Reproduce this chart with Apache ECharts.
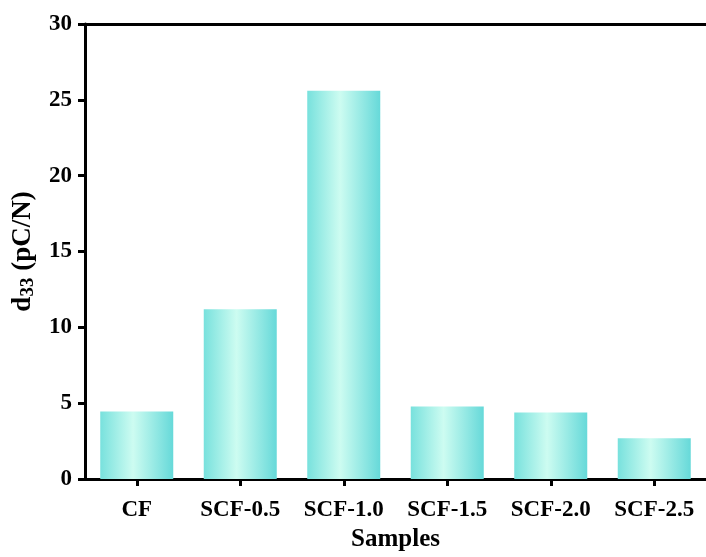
<!DOCTYPE html>
<html>
<head>
<meta charset="utf-8">
<script src="https://cdn.jsdelivr.net/npm/echarts@6/dist/echarts.min.js"></script>
<style>
html,body{margin:0;padding:0;background:#fff;}
#chart{width:706px;height:557px;}
</style>
</head>
<body>
<div id="chart"></div>
<script>
var categories = ['CF', 'SCF-0.5', 'SCF-1.0', 'SCF-1.5', 'SCF-2.0', 'SCF-2.5'];
var d33Values = [4.45, 11.2, 25.6, 4.78, 4.38, 2.68];
var yTicks = [0, 5, 10, 15, 20, 25, 30];

var font = '"Liberation Serif", "Times New Roman", serif';
var chart = echarts.init(document.getElementById('chart'));
var barColor = new echarts.graphic.LinearGradient(0, 0, 1, 0, [
  {offset: 0, color: '#78e1dd'},
  {offset: 0.45, color: '#cdfcf1'},
  {offset: 1, color: '#66d9d9'}
]);
chart.setOption({
  animation: false,
  backgroundColor: '#fff',
  grid: {left: 85, right: -4, top: 24, bottom: 77, containLabel: false},
  xAxis: [{
    type: 'category',
    data: categories,
    position: 'bottom',
    name: 'Samples',
    nameLocation: 'middle',
    nameGap: 48,
    nameTextStyle: {fontFamily: font, fontWeight: 'bold', fontSize: 25, color: '#000'},
    axisLine: {lineStyle: {color: '#000', width: 3}},
    axisTick: {show: true, alignWithLabel: true, length: 7, lineStyle: {width: 3, color: '#000'}},
    axisLabel: {interval: 0, hideOverlap: false, fontFamily: font, fontWeight: 'bold', fontSize: 23, color: '#000', margin: 20}
  }, {
    type: 'category',
    data: categories,
    position: 'top',
    axisLine: {lineStyle: {color: '#000', width: 3}},
    axisTick: {show: false},
    axisLabel: {show: false}
  }],
  yAxis: {
    type: 'value',
    min: 0,
    max: 30,
    interval: 5,
    name: '{a|d}{b|33}{a| (pC/N)}',
    nameLocation: 'middle',
    nameRotate: 90,
    nameGap: 47,
    nameTextStyle: {
      rich: {
        a: {fontFamily: font, fontWeight: 'bold', fontSize: 27, color: '#000'},
        b: {fontFamily: font, fontWeight: 'bold', fontSize: 19, color: '#000', verticalAlign: 'bottom', padding: [10, 0, 0, 0]}
      }
    },
    axisLine: {show: true, lineStyle: {color: '#000', width: 3}},
    axisTick: {show: true, length: 7, lineStyle: {width: 3, color: '#000'}},
    splitLine: {show: false},
    axisLabel: {
      fontFamily: font, fontWeight: 'bold', fontSize: 23, color: '#000', margin: 13,
      formatter: function (v) { return yTicks.indexOf(v) >= 0 ? String(v) : ''; }
    }
  },
  series: [{
    type: 'bar',
    data: d33Values,
    barWidth: 73,
    itemStyle: {color: barColor}
  }]
});
</script>
</body>
</html>
